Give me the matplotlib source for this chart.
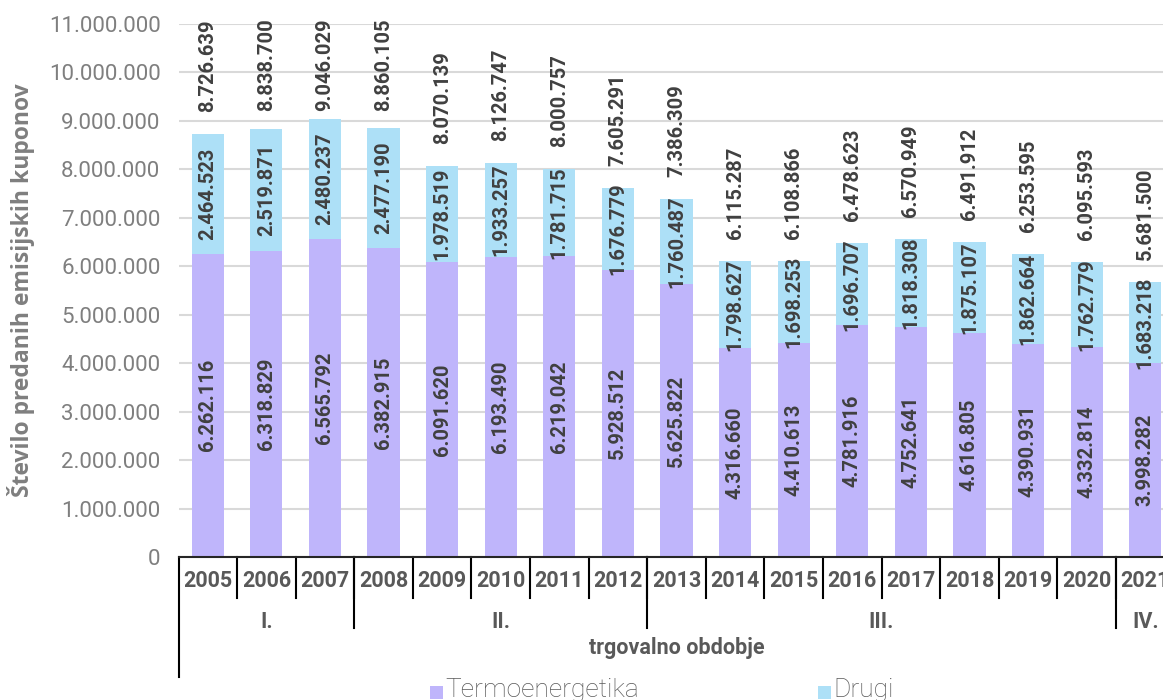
import matplotlib
matplotlib.use("Agg")
import matplotlib.pyplot as plt
from matplotlib.patches import Rectangle

plt.rcParams['font.family'] = ['Roboto', 'DejaVu Sans']

# podatki
leta = ["2005", "2006", "2007", "2008", "2009", "2010", "2011", "2012", "2013",
        "2014", "2015", "2016", "2017", "2018", "2019", "2020", "2021"]
termoenergetika = [6262116, 6318829, 6565792, 6382915, 6091620, 6193490, 6219042,
                   5928512, 5625822, 4316660, 4410613, 4781916, 4752641, 4616805,
                   4390931, 4332814, 3998282]
drugi = [2464523, 2519871, 2480237, 2477190, 1978519, 1933257, 1781715, 1676779,
         1760487, 1798627, 1698253, 1696707, 1818308, 1875107, 1862664, 1762779,
         1683218]
skupaj = [8726639, 8838700, 9046029, 8860105, 8070139, 8126747, 8000757, 7605291,
          7386309, 6115287, 6108866, 6478623, 6570949, 6491912, 6253595, 6095593,
          5681500]
obdobja = ["I.", "II.", "III.", "IV."]
obdobja_od_do = [(0, 2), (3, 7), (8, 15), (16, 16)]

c_termo = "#bfb5fb"
c_drugi = "#ade0f7"
c_txt = "#404040"


def fmt(v):
    return f"{v:,}".replace(",", ".")


fig = plt.figure(figsize=(11.63, 7.0), dpi=100)
ax = fig.add_axes([178.5 / 1163, 1 - 557 / 700, 996 / 1163, 533 / 700])

x = list(range(len(leta)))
ax.bar(x, termoenergetika, width=0.55, color=c_termo, zorder=2)
ax.bar(x, drugi, width=0.55, bottom=termoenergetika, color=c_drugi, zorder=2)

ax.set_xlim(-0.5, len(leta) - 0.5)
ax.set_ylim(0, 11000000)
ax.set_yticks(range(0, 11000001, 1000000))
ax.set_yticklabels([fmt(v) for v in range(0, 11000001, 1000000)],
                   fontsize=16, color="#7f7f7f")
ax.tick_params(axis="y", length=0, pad=13)
ax.set_xticks([])
ax.grid(axis="y", color="#d9d9d9", lw=1.5, zorder=0)
for s in ["left", "right", "top"]:
    ax.spines[s].set_visible(False)
ax.spines["bottom"].set_color("#262626")
ax.spines["bottom"].set_linewidth(1.5)
ax.spines["bottom"].set_zorder(3)

# oznake vrednosti
vel = 14.5
for i in x:
    ax.text(i, termoenergetika[i] / 2, fmt(termoenergetika[i]), rotation=90,
            ha="center", va="center", fontsize=vel, color=c_txt, fontweight="bold")
    ax.text(i, termoenergetika[i] + drugi[i] / 2, fmt(drugi[i]), rotation=90,
            ha="center", va="center", fontsize=vel, color=c_txt, fontweight="bold")
    spodaj = skupaj[i] + 455000
    if spodaj + 1880000 > 11120000:
        ax.text(i, 11120000, fmt(skupaj[i]), rotation=90, ha="center", va="top",
                fontsize=vel, color=c_txt, fontweight="bold", clip_on=False)
    else:
        ax.text(i, spodaj, fmt(skupaj[i]), rotation=90, ha="center", va="bottom",
                fontsize=vel, color=c_txt, fontweight="bold", clip_on=False)

# vecnivojska os x
tr = ax.get_xaxis_transform()
for i, l in enumerate(leta):
    ax.text(i, -0.045, l, transform=tr, ha="center", va="center",
            fontsize=15.5, fontweight="bold", color="#595959", clip_on=False)
for i in range(len(leta) - 1):
    ax.plot([i + 0.5, i + 0.5], [0, -0.0764], transform=tr, color="black",
            lw=1.5, clip_on=False)
for ime, (a, b) in zip(obdobja, obdobja_od_do):
    ax.text((a + b) / 2, -0.122, ime, transform=tr, ha="center", va="center",
            fontsize=15.5, fontweight="bold", color="#595959", clip_on=False)
    if a > 0:
        ax.plot([a - 0.5, a - 0.5], [0, -0.133], transform=tr, color="black",
                lw=1.5, clip_on=False)
ax.plot([-0.5, -0.5], [0, -0.2246], transform=tr, color="black", lw=1.5,
        clip_on=False)
ax.text((len(leta) - 1) / 2, -0.171, "trgovalno obdobje", transform=tr,
        ha="center", va="center", fontsize=15.5, fontweight="bold",
        color="#595959", clip_on=False)

fig.text(21 / 1163, 1 - 290.5 / 700, "Število predanih emisijskih kuponov",
         rotation=90, ha="center", va="center", fontsize=16.5, fontweight="bold",
         color="#7f7f7f", family=["Open Sans", "DejaVu Sans"])

# legenda
for xm, barva, ime in [(430, c_termo, "Termoenergetika"), (818, c_drugi, "Drugi")]:
    fig.add_artist(Rectangle((xm / 1163, 1 - 699 / 700), 13 / 1163, 13 / 700,
                             transform=fig.transFigure, color=barva, lw=0))
    fig.text((xm + 15) / 1163, 1 - 697 / 700, ime, ha="left", va="baseline",
             fontsize=19, fontweight="light", color="#595959")

fig.savefig("out.png", dpi=100)
